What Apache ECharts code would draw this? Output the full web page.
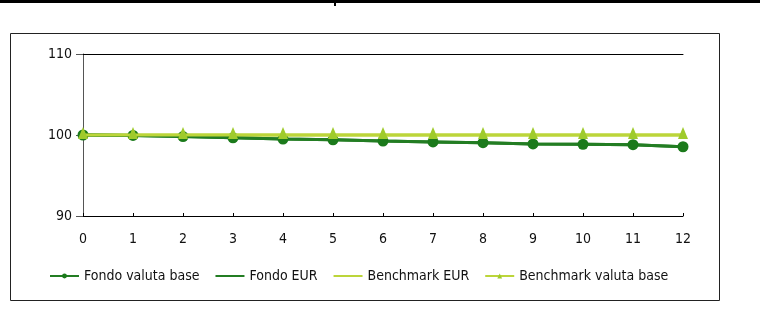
<!DOCTYPE html>
<html>
<head>
<meta charset="utf-8">
<script src="https://cdn.jsdelivr.net/npm/echarts@6/dist/echarts.min.js"></script>
<style>
  html, body { margin: 0; padding: 0; background: #fff; }
  #chart { width: 760px; height: 329px; }
</style>
</head>
<body>
<div id="chart"></div>
<script>
// Months since start (x axis)
const months = [0, 1, 2, 3, 4, 5, 6, 7, 8, 9, 10, 11, 12];

// Indexed values (base 100)
const fondoValutaBase = [100, 99.95, 99.8, 99.65, 99.5, 99.4, 99.25, 99.15, 99.05, 98.9, 98.85, 98.8, 98.55];
const fondoEUR        = [100, 99.95, 99.8, 99.65, 99.5, 99.4, 99.25, 99.15, 99.05, 98.9, 98.85, 98.8, 98.55];
const benchmarkEUR        = [100, 100, 100, 100, 100, 100, 100, 100, 100, 100, 100, 100, 100];
const benchmarkValutaBase = [100, 100, 100, 100, 100, 100, 100, 100, 100, 100, 100, 100, 100];

const yTicks = [90, 100, 110];
const seriesNames = ['Fondo valuta base', 'Fondo EUR', 'Benchmark EUR', 'Benchmark valuta base'];

const pairs = vals => months.map((m, i) => [m, vals[i]]);

const FONT = '"DejaVu Sans Condensed", "Liberation Sans", Arial, sans-serif';
const DARK = '#237d23';
const DARK_MARK = '#1b7a1b';
const LIGHT = '#bcd53a';
const LIGHT_MARK = '#9fcb2c';

const chart = echarts.init(document.getElementById('chart'), null, { renderer: 'canvas' });

chart.setOption({
  animation: false,
  backgroundColor: '#fff',
  grid: { left: 83, right: 77, top: 54, bottom: 113 },
  xAxis: [{
    type: 'value', min: 0, max: 12, interval: 1,
    axisLine: { lineStyle: { color: '#000', width: 1 } },
    axisTick: { inside: true, length: 3, lineStyle: { color: '#000' } },
    axisLabel: { color: '#111', fontFamily: FONT, fontSize: 14, margin: 16 },
    splitLine: { show: false }
  }, {
    type: 'value', min: 0, max: 12, position: 'top',
    axisLine: { show: true, lineStyle: { color: '#000', width: 1 } },
    axisTick: { show: false }, axisLabel: { show: false }, splitLine: { show: false }
  }],
  yAxis: {
    type: 'value', min: yTicks[0], max: yTicks[yTicks.length - 1], interval: 10,
    axisLine: { show: true, lineStyle: { color: '#555', width: 1 } },
    axisTick: { show: true, length: 7, lineStyle: { color: '#555' } },
    axisLabel: { color: '#111', fontFamily: FONT, fontSize: 14, margin: 11 },
    splitLine: { show: false }
  },
  legend: {
    left: 44, top: 264, itemGap: 15, itemWidth: 29, itemHeight: 6,
    textStyle: { color: '#111', fontFamily: FONT, fontSize: 14 },
    data: [
      { name: seriesNames[0] },
      { name: seriesNames[1], itemStyle: { opacity: 0 } },
      { name: seriesNames[2], itemStyle: { opacity: 0 } },
      { name: seriesNames[3] }
    ]
  },
  series: [
    {
      name: seriesNames[2], type: 'line', data: pairs(benchmarkEUR),
      showSymbol: false, symbol: 'none',
      lineStyle: { color: LIGHT, width: 3 }, itemStyle: { color: LIGHT }, z: 2
    },
    {
      name: seriesNames[1], type: 'line', data: pairs(fondoEUR),
      showSymbol: false, symbol: 'none',
      lineStyle: { color: DARK, width: 3 }, itemStyle: { color: DARK }, z: 3
    },
    {
      name: seriesNames[0], type: 'line', data: pairs(fondoValutaBase),
      symbol: 'circle', symbolSize: 11,
      lineStyle: { color: DARK, width: 3 }, itemStyle: { color: DARK_MARK }, z: 4
    },
    {
      name: seriesNames[3], type: 'line', data: pairs(benchmarkValutaBase),
      symbol: 'triangle', symbolSize: [10, 12], symbolOffset: [0, -2],
      lineStyle: { color: LIGHT, width: 3 }, itemStyle: { color: LIGHT_MARK }, z: 5
    }
  ],
  graphic: [
    { type: 'rect', shape: { x: 0, y: 0, width: 760, height: 3 }, style: { fill: '#000' } },
    { type: 'rect', shape: { x: 334, y: 0, width: 2, height: 6 }, style: { fill: '#000' } },
    { type: 'rect', shape: { x: 10.5, y: 33.5, width: 709, height: 267 },
      style: { fill: 'none', stroke: '#222', lineWidth: 1 } }
  ]
});
</script>
</body>
</html>
